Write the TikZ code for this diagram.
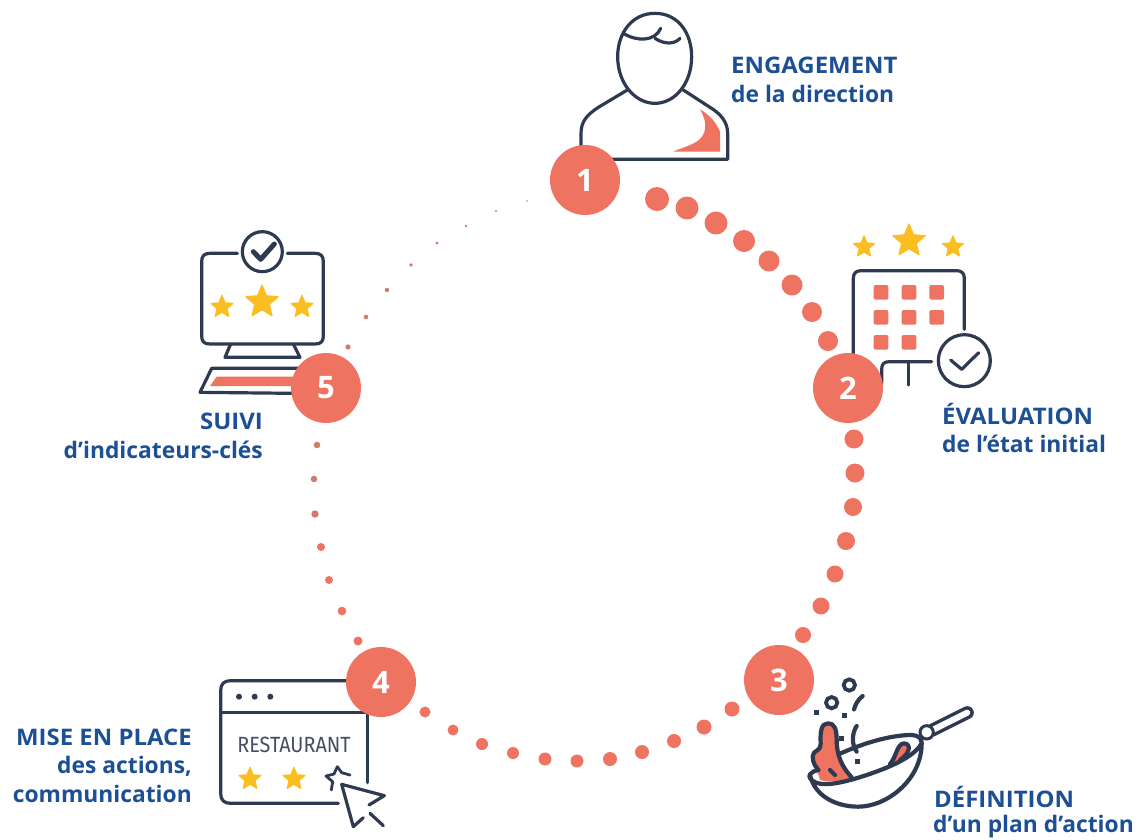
\documentclass[tikz,border=0pt]{standalone}
\usepackage{fontspec}
\setmainfont{Open Sans}
\newfontfamily\condfont{Fira Sans}
\definecolor{salmon}{HTML}{EE7361}
\definecolor{salmondim}{HTML}{D27A6E}
\definecolor{inkline}{HTML}{2E3A50}
\definecolor{titleblue}{HTML}{1D4F94}
\definecolor{starc}{HTML}{FBBE21}
\tikzset{
  icon/.style={draw=inkline,line width=3.2pt,line cap=round,line join=round},
  wokline/.style={icon,line width=4.2pt},
  numdisc/.style={circle,fill=salmon,text=white,minimum size=70pt,inner sep=0pt,font=\fontsize{31}{31}\selectfont\bfseries},
  lab/.style={inner sep=0pt,text=titleblue,font=\fontsize{22.8}{24}\selectfont\bfseries},
  labl/.style={lab,anchor=base west},
  labr/.style={lab,anchor=base east},
  capsl/.style={labl,xscale=1.05},
  capsr/.style={labr,xscale=1.05},
  zoomed/.style={x=0.33333pt,y=-0.33333pt},
}
\newcommand{\mystar}[3]{%
  \fill[starc,draw=starc,line width=1.2pt,line join=round]
   ({#1+#3*cos(-90)},{#2+#3*sin(-90)})
   \foreach \k in {1,...,9}{ -- ({#1+(mod(\k,2)==1?0.45:1)*#3*cos(-90+36*\k)},{#2+(mod(\k,2)==1?0.45:1)*#3*sin(-90+36*\k)})} -- cycle;}
\newcommand{\mydisc}[4][salmon]{\fill[#1] (#2,#3) circle[radius=#4pt];}
\begin{document}
\begin{tikzpicture}[x=1pt,y=-1pt]
\useasboundingbox (0,0) rectangle (1138,839);
% --- person
\begin{scope}[shift={(540,0)},zoomed]
 \fill[salmon] (480,328) .. controls (505,370) and (500,405) .. (470,425) .. controls (445,440) and (420,445) .. (400,455) -- (540,455) -- (540,395) .. controls (530,370) and (510,345) .. (480,328) -- cycle;
 \draw[icon] (345,40) .. controls (275,40) and (233,100) .. (233,170) .. controls (233,250) and (285,310) .. (345,310) .. controls (405,310) and (455,250) .. (455,170) .. controls (455,100) and (415,40) .. (345,40) -- cycle;
 \draw[icon] (250,100) .. controls (290,125) and (345,125) .. (362,85);
 \draw[icon] (345,115) .. controls (375,135) and (405,132) .. (420,115);
 \draw[icon] (262,270) -- (175,322) .. controls (140,345) and (123,365) .. (123,400) -- (123,445);
 \draw[icon] (215,478) -- (563,478) -- (563,400) .. controls (563,365) and (540,340) .. (510,322) -- (430,270);
\end{scope}
% --- calendar
\begin{scope}[shift={(780,210)},zoomed]
 \draw[icon] (220,430) -- (220,205) .. controls (220,190) and (228,182) .. (243,182) -- (530,182) .. controls (545,182) and (553,190) .. (553,205) -- (553,358);
 \draw[icon] (305,520) -- (305,478) .. controls (305,462) and (312,455) .. (328,455) -- (455,455);
 \draw[icon] (385,455) -- (385,525);
 \draw[icon] (553,452) circle[radius=78];
 \draw[icon] (512,450) -- (545,478) -- (596,428);
 \foreach \px/\py in {303/247,387/247,470/247,303/322,387/322,470/322,303/397,387/397}
   \fill[salmon,rounded corners=2pt] (\px-22,\py-22) rectangle (\px+22,\py+22);
\end{scope}
\mystar{864}{247}{11}\mystar{909}{241}{17}\mystar{953}{247}{11}
% --- wok
\begin{scope}[shift={(730,640)},zoomed]
 \fill[salmon] (272,320) .. controls (270,270) and (275,250) .. (295,250) .. controls (312,250) and (320,265) .. (320,300) .. controls (320,345) and (335,380) .. (365,412) .. controls (340,425) and (300,428) .. (270,420) .. controls (265,395) and (245,370) .. (250,340) -- cycle;
 \draw[wokline] (265,390) .. controls (250,375) and (243,350) .. (252,338) .. controls (262,330) and (272,328) .. (272,310) .. controls (270,270) and (275,250) .. (295,250) .. controls (312,250) and (320,265) .. (320,300) .. controls (320,345) and (335,380) .. (365,412);
 \draw[wokline] (300,390) -- (315,405);
 \fill[salmon] (480,372) .. controls (500,350) and (500,312) .. (522,310) .. controls (545,312) and (540,340) .. (510,360) -- cycle;
 \draw[wokline] (480,372) .. controls (500,350) and (500,312) .. (522,310) .. controls (545,312) and (540,340) .. (510,360);
 \draw[wokline] (332,340) .. controls (400,310) and (480,285) .. (545,285) .. controls (565,286) and (575,295) .. (575,310) .. controls (555,345) and (500,375) .. (410,405) .. controls (350,425) and (290,440) .. (258,428) .. controls (240,420) and (235,410) .. (240,403) .. controls (245,395) and (255,392) .. (265,390);
 \draw[wokline] (240,405) .. controls (255,470) and (320,500) .. (385,500) .. controls (470,500) and (575,420) .. (575,310);
 \draw[inkline,line width=13pt,line cap=round] (608,270) -- (712,218);
 \draw[white,line width=6pt,line cap=round] (608,270) -- (712,218);
 \draw[inkline,line width=3pt,fill=white] (590,277) circle[radius=20];
 \draw[inkline,line width=3.8pt] (358,135) circle[radius=17];
 \draw[inkline,line width=3.8pt] (305,188) circle[radius=17];
 \draw[wokline] (398,168) .. controls (382,180) and (376,195) .. (372,208);
 \draw[wokline] (380,258) .. controls (365,280) and (365,315) .. (380,335);
 \foreach \px/\py in {260/218,343/226,335/296,382/365}
   \fill[inkline] (\px-8,\py-8) rectangle (\px+8,\py+8);
\end{scope}
% --- web page
\begin{scope}[shift={(190,650)},zoomed]
 \draw[icon] (470,92) -- (122,92) .. controls (102,92) and (92,102) .. (92,122) -- (92,430) .. controls (92,450) and (102,460) .. (122,460) -- (445,460);
 \draw[icon] (92,187) -- (532,187) -- (532,398);
 \foreach \px in {147,194,241} \fill[inkline] (\px,140) circle[radius=9];
 \draw[icon,line width=2.8pt] (408,378) -- (432,372) -- (442,350) -- (455,368) -- (480,375);
 \draw[icon,line width=2.8pt] (408,378) -- (428,395) -- (424,420);
 \draw[icon] (455,403) -- (583,437) -- (537,465);
 \draw[icon] (455,403) -- (490,530) -- (520,503);
 \draw[icon] (540,490) -- (580,527);
\end{scope}
\node[inner sep=0pt,text=inkline!90,xscale=0.9,font=\condfont\fontsize{22}{22}\selectfont] (rest) at (294,745) {RESTAURANT};
\mystar{250}{779}{11.5}\mystar{294}{779}{11.5}
% --- monitor
\begin{scope}[shift={(180,220)},zoomed]
 \draw[icon] (172,100) -- (90,100) .. controls (72,100) and (65,108) .. (65,125) -- (65,347) .. controls (65,365) and (72,372) .. (90,372) -- (405,372) .. controls (423,372) and (430,365) .. (430,347) -- (430,125) .. controls (430,108) and (423,100) .. (405,100) -- (322,100);
 \draw[icon] (247,95) circle[radius=60];
 \draw[inkline,line width=5pt,line cap=round,line join=round] (220,95) -- (242,118) -- (283,72);
 \draw[icon] (152,372) -- (135,412) -- (360,412) -- (340,372);
 \draw[icon] (360,445) -- (95,445) -- (60,517) -- (340,520);
 \fill[salmon] (110,470) -- (90,498) -- (345,498) -- (345,470) -- cycle;
\end{scope}
\mystar{222}{307}{11.5}\mystar{262}{302}{17}\mystar{302}{307}{11.5}
% --- dotted ring
\foreach \dx/\dy/\dr in {657/199/12,687/208/11.5,716/223/11.5,744/241/11,769/261/10.5,792/285/10.5,812/312/10,828/341/10,
 854/439/9.5,855/473/9.5,853/507/9,846/541/9,835/574/8.5,821/606/8.5,803/635/8,
 732/709/7.5,704/727/7.5,674/741/7,642/752/7,610/759/7,577/761/6.5,545/759/6.5,513/753/6,482/744/6,453/730/5.5,425/712/5.5,
 358/641/4.5,342/611/4.3,329/580/4,321/547/4}
  {\mydisc{\dx}{\dy}{\dr}}
\foreach \dx/\dy/\dr in {315/514/3.7,314/479/3.3,317/445/3.3,348/347/2.6,366/317/2.3,387/290/2.2,411/265/1.9,437/243/1.6,466/226/1.3,496/211/1.1,527/201/0.8}
  {\mydisc[salmondim]{\dx}{\dy}{\dr}}
% --- numbered discs
\node[numdisc] (n1) at (585,180) {1};
\node[numdisc] (n2) at (848,388) {2};
\node[numdisc] (n3) at (779,680) {3};
\node[numdisc] (n4) at (381,682) {4};
\node[numdisc] (n5) at (326,388) {5};
% --- labels
\node[capsl] (t1a) at (731,73) {ENGAGEMENT};
\node[labl] (t1b) at (731,102) {de la direction};
\node[capsl] (t2a) at (942,424) {ÉVALUATION};
\node[labl] (t2b) at (942,452) {de l’état initial};
\node[capsl] (t3a) at (934,807) {DÉFINITION};
\node[labl] (t3b) at (933,832) {d’un plan d’action};
\node[capsr] (t4a) at (192,745) {MISE EN PLACE};
\node[labr] (t4b) at (192,773) {des actions,};
\node[labr] (t4c) at (192,802) {communication};
\node[capsr] (t5a) at (263,429) {SUIVI};
\node[labr] (t5b) at (263,458) {d’indicateurs-clés};
\end{tikzpicture}
\end{document}
